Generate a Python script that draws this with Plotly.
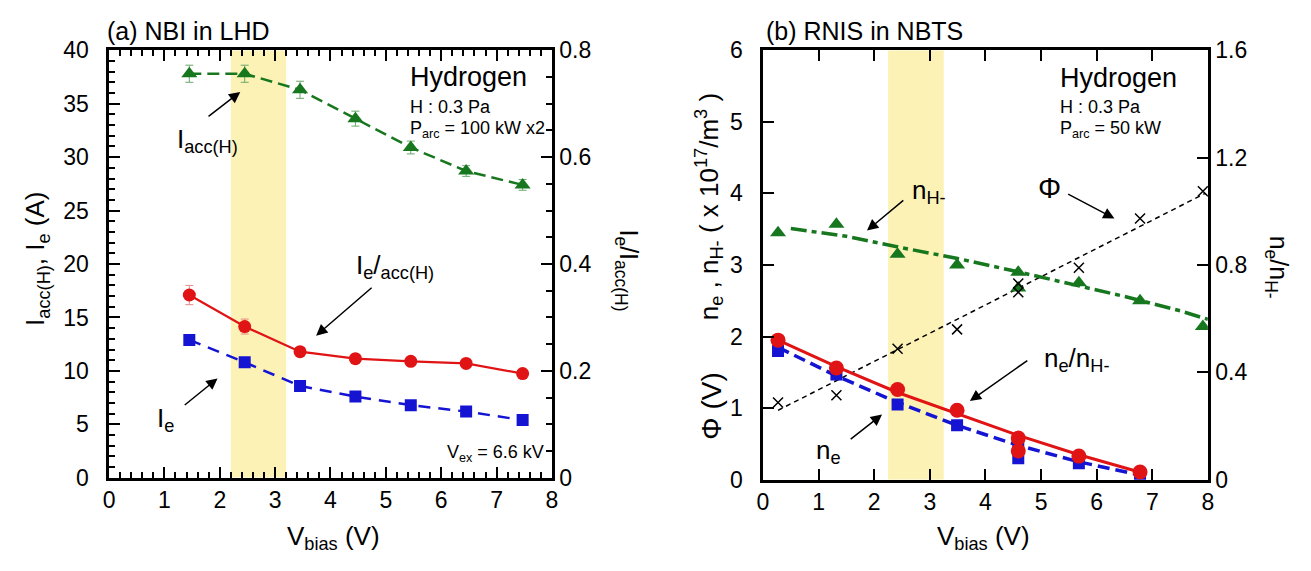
import plotly.graph_objects as go

# ---------------- data: panel (a) NBI in LHD ----------------
vbias_a = [1.45, 2.45, 3.45, 4.45, 5.45, 6.45, 7.47]
iacc_h = [37.8, 37.8, 36.3, 33.6, 30.9, 28.7, 27.4]
iacc_err = [0.8, 0.8, 0.8, 0.7, 0.6, 0.5, 0.5]
ie_a = [12.9, 10.8, 8.6, 7.6, 6.8, 6.2, 5.4]
ie_ratio = [0.342, 0.283, 0.236, 0.223, 0.218, 0.214, 0.195]
ie_ratio_err = [0.018, 0.014, 0.006, 0.005, 0.005, 0.005, 0.005]
band_a = [2.2, 3.2]
yrange_a = [0, 40]

# ---------------- data: panel (b) RNIS in NBTS ----------------
vbias_b = [0.27, 1.32, 2.42, 3.49, 4.59, 4.59, 5.68, 6.78, 7.91]
n_hminus = [3.45, 3.57, 3.15, 3.00, 2.90, 2.68, 2.75, 2.50, 2.14]
phi = [1.08, 1.18, 1.83, 2.10, 2.62, 2.74, 2.96, 3.65, 4.03]
vbias_b2 = [0.27, 1.32, 2.42, 3.49, 4.59, 4.59, 5.68, 6.78]
n_e = [1.80, 1.47, 1.05, 0.76, 0.45, 0.30, 0.23, 0.08]
ne_ratio = [0.520, 0.416, 0.336, 0.259, 0.155, 0.107, 0.088, 0.029]

fit_nh_x = [0.5, 1.5, 2.5, 3.5, 4.5, 5.5, 6.5, 7.5, 8.0]
fit_nh_y = [3.51, 3.40, 3.24, 3.09, 2.92, 2.74, 2.56, 2.36, 2.24]
fit_phi_x = [0.27, 7.95]
fit_phi_y = [0.97, 4.00]
fit_ne_x = [0.27, 1.32, 2.42, 3.49, 4.59, 5.68, 6.75]
fit_ne_y = [1.85, 1.45, 1.08, 0.76, 0.48, 0.25, 0.07]
fit_ratio_x = [0.27, 1.32, 2.42, 3.49, 4.59, 5.68, 6.80]
fit_ratio_y = [0.520, 0.421, 0.325, 0.245, 0.165, 0.093, 0.027]
band_b = [2.25, 3.25]
yrange_b = [0, 6]

GREEN = "#17771f"
BLUE = "#1414d2"
RED = "#e01414"
BAND = "#fdf2b6"
FONT = "Liberation Sans"
PAD = "\u00a0\u00a0"

W, H = 1311, 571
def px(x):
    return x / W
def py(y):
    return 1 - y / H

fig = go.Figure()

# shaded bands as filled traces (drawn first, below everything else)
fig.add_trace(go.Scatter(x=[band_a[0], band_a[1], band_a[1], band_a[0]],
                         y=[yrange_a[0], yrange_a[0], yrange_a[1], yrange_a[1]],
                         xaxis="x", yaxis="y", mode="lines", fill="toself", fillcolor=BAND,
                         line=dict(width=0, color=BAND), hoverinfo="skip", showlegend=False))
fig.add_trace(go.Scatter(x=[band_b[0], band_b[1], band_b[1], band_b[0]],
                         y=[yrange_b[0], yrange_b[0], yrange_b[1], yrange_b[1]],
                         xaxis="x2", yaxis="y3", mode="lines", fill="toself", fillcolor=BAND,
                         line=dict(width=0, color=BAND), hoverinfo="skip", showlegend=False))

# ---- panel (a) ----
fig.add_trace(go.Scatter(x=vbias_a, y=iacc_h, xaxis="x", yaxis="y", mode="lines+markers",
                         line=dict(color=GREEN, width=2.5, dash="12px,6px"),
                         marker=dict(symbol="triangle-up", size=14, color=GREEN),
                         error_y=dict(type="data", array=iacc_err, color="#6aa86a", thickness=1, width=4),
                         showlegend=False))
fig.add_trace(go.Scatter(x=vbias_a, y=ie_a, xaxis="x", yaxis="y", mode="lines+markers",
                         line=dict(color=BLUE, width=2.5, dash="12px,8px"),
                         marker=dict(symbol="square", size=12, color=BLUE),
                         error_y=dict(type="data", array=[0.4] * 7, color="#8a8ae0", thickness=1, width=4),
                         showlegend=False))
fig.add_trace(go.Scatter(x=vbias_a, y=ie_ratio, xaxis="x", yaxis="y2", mode="lines+markers",
                         line=dict(color=RED, width=2.2),
                         marker=dict(symbol="circle", size=13, color=RED),
                         error_y=dict(type="data", array=ie_ratio_err, color="#e88a8a", thickness=1, width=4),
                         showlegend=False))

# ---- panel (b) ----
fig.add_trace(go.Scatter(x=fit_phi_x, y=fit_phi_y, xaxis="x2", yaxis="y3", mode="lines",
                         line=dict(color="black", width=1.5, dash="5px,4px"), showlegend=False))
fig.add_trace(go.Scatter(x=fit_nh_x, y=fit_nh_y, xaxis="x2", yaxis="y3", mode="lines",
                         line=dict(color=GREEN, width=3.5, dash="16px,5px,5px,5px"), showlegend=False))
fig.add_trace(go.Scatter(x=fit_ne_x, y=fit_ne_y, xaxis="x2", yaxis="y3", mode="lines",
                         line=dict(color=BLUE, width=3.5, dash="12px,6px"), showlegend=False))
fig.add_trace(go.Scatter(x=fit_ratio_x, y=fit_ratio_y, xaxis="x2", yaxis="y4", mode="lines",
                         line=dict(color=RED, width=3), showlegend=False))
fig.add_trace(go.Scatter(x=vbias_b, y=n_hminus, xaxis="x2", yaxis="y3", mode="markers",
                         marker=dict(symbol="triangle-up", size=14, color=GREEN), showlegend=False))
fig.add_trace(go.Scatter(x=vbias_b2, y=n_e, xaxis="x2", yaxis="y3", mode="markers",
                         marker=dict(symbol="square", size=12, color=BLUE), showlegend=False))
fig.add_trace(go.Scatter(x=vbias_b2, y=ne_ratio, xaxis="x2", yaxis="y4", mode="markers",
                         marker=dict(symbol="circle", size=15, color=RED), showlegend=False))
fig.add_trace(go.Scatter(x=vbias_b, y=phi, xaxis="x2", yaxis="y3", mode="markers",
                         marker=dict(symbol="x-thin", size=10, color="black", line=dict(width=1.5, color="black")),
                         showlegend=False))

tickfont = dict(family=FONT, size=23, color="black")
common = dict(showgrid=False, zeroline=False, showline=True, linecolor="black", linewidth=2.5,
              ticks="inside", tickcolor="black", tickwidth=2, tickfont=tickfont, layer="above traces")
minor_style = dict(ticks="inside", tickcolor="black", tickwidth=2, ticklen=6)

dom_a = [px(104), px(551)]
dom_b = [px(764), px(1213)]
ydom_a = [py(487), py(39)]
ydom_b = [py(489), py(39)]

fig.update_layout(
    width=W, height=H, margin=dict(l=0, r=0, t=0, b=0),
    paper_bgcolor="white", plot_bgcolor="white",
    xaxis=dict(domain=dom_a, range=[0, 8], dtick=1, ticklen=11, mirror="ticks", anchor="y",
               minor=dict(dtick=0.2, **minor_style), **common),
    yaxis=dict(domain=ydom_a, range=yrange_a, dtick=5, ticklen=11, anchor="x", ticksuffix=PAD,
               minor=dict(dtick=1, **minor_style), **common),
    yaxis2=dict(range=[0, 0.8], ticklen=11, overlaying="y", side="right", anchor="x",
                tickvals=[0, 0.2, 0.4, 0.6, 0.8], ticktext=["0", "0.2", "0.4", "0.6", "0.8"], tickprefix=PAD,
                minor=dict(tickvals=[i * 0.05 for i in range(17)], **minor_style), **common),
    xaxis2=dict(domain=dom_b, range=[0, 8], dtick=1, ticklen=11, mirror="ticks", anchor="y3", **common),
    yaxis3=dict(domain=ydom_b, range=yrange_b, dtick=1, ticklen=11, anchor="x2", ticksuffix=PAD, **common),
    yaxis4=dict(range=[0, 1.6], ticklen=11, overlaying="y3", side="right", anchor="x2", tickprefix=PAD,
                tickvals=[0, 0.4, 0.8, 1.2, 1.6], ticktext=["0", "0.4", "0.8", "1.2", "1.6"], **common),
)

ann = []
def text(x, y, s, size, xanchor="center", angle=0, xref="paper", yref="paper"):
    ann.append(dict(x=x, y=y, xref=xref, yref=yref, text=s, showarrow=False, xanchor=xanchor,
                    yanchor="middle", textangle=angle, font=dict(family=FONT, size=size, color="black")))

def arrow(xt, yt, xh, yh, xr, yr):
    ann.append(dict(x=xh, y=yh, ax=xt, ay=yt, xref=xr, yref=yr, axref=xr, ayref=yr, text="",
                    showarrow=True, arrowhead=2, arrowsize=1.5, arrowwidth=1.5, arrowcolor="black"))

# panel (a) texts
text(px(100), py(19), "(a) NBI in LHD", 25, xanchor="left")
text(px(406), py(67), "Hydrogen", 27, xanchor="left")
text(px(406), py(99), "H : 0.3 Pa", 18, xanchor="left")
text(px(406), py(122), "P<sub>arc</sub> = 100 kW x2", 18, xanchor="left")
text(px(545), py(462), "V<sub>ex</sub> = 6.6 kV", 18, xanchor="right")
text(px(31), py(258), "I<sub>acc(H)</sub>, I<sub>e</sub> (A)", 26, angle=-90)
text(px(627), py(270), "I<sub>e</sub>/I<sub>acc(H)</sub>", 25, angle=90)
text(px(331), py(549), "V<sub>bias</sub> (V)", 26)
text(1.77, 31.6, "I<sub>acc(H)</sub>", 26, xref="x", yref="y")
text(5.17, 19.8, "I<sub>e</sub>/<sub>acc(H)</sub>", 26, xref="x", yref="y")
text(1.02, 5.5, "I<sub>e</sub>", 26, xref="x", yref="y")
arrow(1.77, 33.7, 2.37, 36.1, "x", "y")
arrow(4.77, 17.9, 3.74, 13.3, "x", "y")
arrow(1.34, 6.7, 1.96, 9.3, "x", "y")

# panel (b) texts
text(px(765), py(19), "(b) RNIS in NBTS", 25, xanchor="left")
text(px(1062), py(68), "Hydrogen", 27, xanchor="left")
text(px(1062), py(99), "H : 0.3 Pa", 18, xanchor="left")
text(px(1062), py(122), "P<sub>arc</sub> = 50 kW", 18, xanchor="left")
text(px(709), py(203), "n<sub>e</sub> , n<sub>H-</sub> ( x 10<sup>17</sup>/m<sup>3</sup> )", 26, angle=-90)
text(px(712), py(412), "Φ (V)", 28, angle=-90)
text(px(1283), py(266), "n<sub>e</sub>/n<sub>H-</sub>", 25, angle=90)
text(px(987), py(550), "V<sub>bias</sub> (V)", 26)
text(2.98, 4.03, "n<sub>H-</sub>", 26, xref="x2", yref="y3")
text(5.15, 4.07, "Φ", 29, xref="x2", yref="y3")
text(5.64, 1.68, "n<sub>e</sub>/n<sub>H-</sub>", 26, xref="x2", yref="y3")
text(1.18, 0.40, "n<sub>e</sub>", 26, xref="x2", yref="y3")
arrow(2.55, 3.92, 1.87, 3.48, "x2", "y3")
arrow(5.46, 4.00, 6.32, 3.65, "x2", "y3")
arrow(4.78, 1.68, 3.72, 1.10, "x2", "y3")
arrow(1.55, 0.55, 2.14, 0.91, "x2", "y3")

fig.update_layout(annotations=ann)
fig.write_html("out.html")
